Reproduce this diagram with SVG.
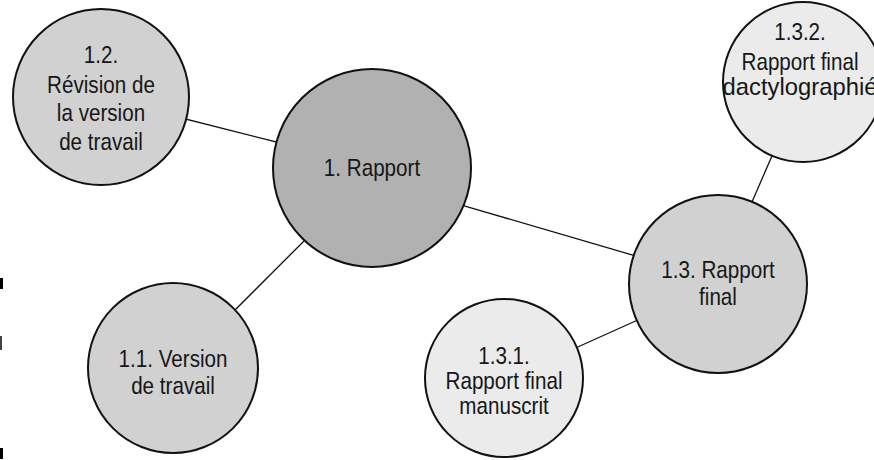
<svg xmlns="http://www.w3.org/2000/svg" width="874" height="460" viewBox="0 0 874 460">
<style>
.node{stroke:#111;stroke-width:2}
.dark{fill:#b1b1b1}
.mid{fill:#d1d1d1}
.light{fill:#ebebeb}
.lbl{font-family:"Liberation Sans",Arial,sans-serif;font-size:24px;fill:#161616;text-anchor:middle;dominant-baseline:central}
.conn line{stroke:#111;stroke-width:1.3}
</style>
<rect x="0" y="0" width="874" height="460" fill="#fff"/>
<g id="connectors" class="conn">
<line x1="150" y1="110" x2="300" y2="148"/>
<line x1="330" y1="215" x2="220" y2="325"/>
<line x1="420" y1="193" x2="670" y2="266"/>
<line x1="680" y1="301" x2="540" y2="364"/>
<line x1="738" y1="234" x2="785" y2="126"/>
</g>
<g id="n1-2"><circle class="node mid" cx="101" cy="97" r="88"/>
<g transform="translate(101,0) scale(0.86,1)"><text class="lbl" x="0" y="55">1.2.</text><text class="lbl" x="0" y="85">Révision de</text><text class="lbl" x="0" y="113">la version</text><text class="lbl" x="0" y="142">de travail</text></g></g>
<g id="n1"><circle class="node dark" cx="372" cy="168" r="99"/>
<g transform="translate(372,0) scale(0.86,1)"><text class="lbl" x="0" y="168">1. Rapport</text></g></g>
<g id="n1-1"><circle class="node mid" cx="173" cy="368" r="85"/>
<g transform="translate(173,0) scale(0.86,1)"><text class="lbl" x="0" y="359">1.1. Version</text><text class="lbl" x="0" y="386">de travail</text></g></g>
<g id="n1-3"><circle class="node mid" cx="718" cy="284" r="89"/>
<g transform="translate(718,0) scale(0.86,1)"><text class="lbl" x="0" y="270">1.3. Rapport</text><text class="lbl" x="0" y="297">final</text></g></g>
<g id="n1-3-1"><circle class="node light" cx="504" cy="378" r="79"/>
<g transform="translate(504,0) scale(0.86,1)"><text class="lbl" x="0" y="356">1.3.1.</text><text class="lbl" x="0" y="381">Rapport final</text><text class="lbl" x="0" y="406">manuscrit</text></g></g>
<g id="n1-3-2"><circle class="node light" cx="803" cy="82" r="80"/>
<g transform="translate(800,0) scale(0.86,1)"><text class="lbl" x="0" y="32">1.3.2.</text><text class="lbl" x="0" y="62">Rapport final</text><text class="lbl" x="0" y="87" textLength="180" lengthAdjust="spacingAndGlyphs">dactylographié</text></g></g>
<g id="edge-marks">
<rect x="0" y="278" width="3" height="11" fill="#000"/>
<rect x="0" y="336" width="2" height="14" fill="#444"/>
<rect x="0" y="448" width="3" height="11" fill="#000"/>
</g>
</svg>
